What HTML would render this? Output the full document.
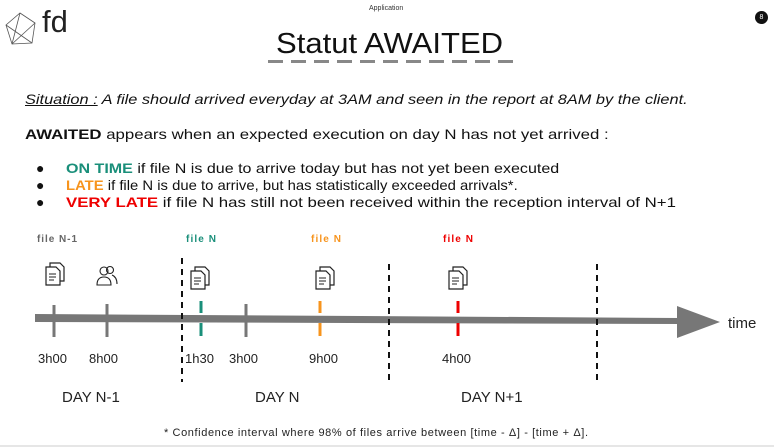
<!DOCTYPE html>
<html><head><meta charset="utf-8"><style>
body{margin:0;width:774px;height:447px;background:#fff;font-family:"Liberation Sans",sans-serif;position:relative;overflow:hidden;color:#111}
.a{position:absolute;white-space:nowrap;transform-origin:0 0}
</style></head><body>
<svg class="a" style="left:4px;top:11px" width="34" height="36" viewBox="0 0 34 36"><g fill="none" stroke="#555" stroke-width="0.8"><polygon points="16,2 31,12 28,32 8,33 2,14"/><line x1="16" y1="2" x2="8" y2="33"/><line x1="2" y1="14" x2="28" y2="32"/><line x1="31" y1="12" x2="8" y2="33"/></g></svg>
<div class="a" style="left:42px;top:4px;font-size:31px;color:#222">fd</div>
<div class="a" style="left:369px;top:5px;font-size:7px;color:#333">Application</div>
<div class="a" style="left:755px;top:11px;width:13px;height:13px;border-radius:50%;background:#111;color:#fff;font-size:7px;text-align:center;line-height:13px">8</div>
<div class="a" style="left:276px;top:28px;font-size:29px;color:#111;transform:scaleX(1.07)">Statut AWAITED</div>
<svg class="a" style="left:268px;top:59px" width="246" height="5"><line x1="0" y1="2.5" x2="246" y2="2.5" stroke="#888" stroke-width="3" stroke-dasharray="15,8"/></svg>
<div class="a" style="left:25px;top:91px;font-size:14px;font-style:italic;transform:scaleX(1.167)"><span style="text-decoration:underline">Situation :</span> A file should arrived everyday at 3AM and seen in the report at 8AM by the client.</div>
<div class="a" style="left:25px;top:126px;font-size:14px;transform:scaleX(1.2)"><b>AWAITED</b> appears when an expected execution on day N has not yet arrived :</div>
<div class="a" style="left:36px;top:160px;font-size:14px">●</div>
<div class="a" style="left:36px;top:177px;font-size:14px">●</div>
<div class="a" style="left:36px;top:194px;font-size:14px">●</div>
<div class="a" style="left:66px;top:160px;font-size:14px;transform:scaleX(1.146)"><b style="color:#1a8f7a">ON TIME</b> if file N is due to arrive today but has not yet been executed</div>
<div class="a" style="left:66px;top:177px;font-size:14px;transform:scaleX(1.06)"><b style="color:#f7941d">LATE</b> if file N is due to arrive, but has statistically exceeded arrivals*.</div>
<div class="a" style="left:66px;top:194px;font-size:14px;transform:scaleX(1.2)"><b style="color:#e00">VERY LATE</b> if file N has still not been received within the reception interval of N+1</div>

<svg class="a" style="left:0;top:0" width="774" height="447">
<defs><g id="doc"><path d="M5,2 h10 l4,4 v14 h-14z" fill="#fff" stroke="#222" stroke-width="1.2"/><path d="M1,6 h10 l4,4 v14 h-14z" fill="#fff" stroke="#222" stroke-width="1.2"/><line x1="4" y1="13" x2="11" y2="13" stroke="#222"/><line x1="4" y1="16" x2="11" y2="16" stroke="#222"/><line x1="4" y1="19" x2="9" y2="19" stroke="#222"/></g></defs>
<polygon points="35,314 680,318 680,324 35,322" fill="#777"/>
<polygon points="677,306 720,322 677,338" fill="#777"/>
<text x="728" y="328" font-size="15" fill="#222">time</text>
<g stroke="#111" stroke-width="2" stroke-dasharray="6,5"><line x1="182" y1="258" x2="182" y2="382"/><line x1="389" y1="264" x2="389" y2="382"/><line x1="597" y1="264" x2="597" y2="382"/></g>
<g stroke="#777" stroke-width="3"><line x1="54" y1="305" x2="54" y2="337"/><line x1="107" y1="304" x2="107" y2="337"/><line x1="246" y1="304" x2="246" y2="337"/></g>
<g stroke-width="3"><line x1="201" y1="301" x2="201" y2="313" stroke="#1a8f7a"/><line x1="201" y1="323" x2="201" y2="336" stroke="#1a8f7a"/>
<line x1="320" y1="301" x2="320" y2="313" stroke="#f7941d"/><line x1="320" y1="323" x2="320" y2="336" stroke="#f7941d"/>
<line x1="458" y1="301" x2="458" y2="313" stroke="#e00"/><line x1="458" y1="323" x2="458" y2="336" stroke="#e00"/></g>
<use href="#doc" x="45" y="261"/><use href="#doc" x="190" y="265"/><use href="#doc" x="315" y="265"/><use href="#doc" x="448" y="265"/>
<g fill="none" stroke="#222" stroke-width="1.1"><circle cx="104" cy="271" r="4"/><path d="M97,285 q0,-8 7,-8 q7,0 7,8z"/><circle cx="110" cy="270" r="3.5"/><path d="M112,275 q5,2 5,9"/></g>
<g font-size="10" font-weight="bold"><text x="37" y="242" fill="#666" textLength="40">file N-1</text><text x="186" y="242" fill="#1a8f7a" textLength="30">file N</text><text x="311" y="242" fill="#f7941d" textLength="30">file N</text><text x="443" y="242" fill="#e00" textLength="30">file N</text></g>
<g font-size="13" fill="#222"><text x="38" y="363">3h00</text><text x="89" y="363">8h00</text><text x="185" y="363">1h30</text><text x="229" y="363">3h00</text><text x="309" y="363">9h00</text><text x="442" y="363">4h00</text></g>
<g font-size="15" fill="#222"><text x="62" y="402">DAY N-1</text><text x="255" y="402">DAY N</text><text x="461" y="402">DAY N+1</text></g>
<text x="164" y="436" font-size="11" fill="#222" textLength="424">* Confidence interval where 98% of files arrive between [time - Δ] - [time + Δ].</text>
<line x1="0" y1="446" x2="774" y2="446" stroke="#ccc"/>
</svg>
</body></html>
